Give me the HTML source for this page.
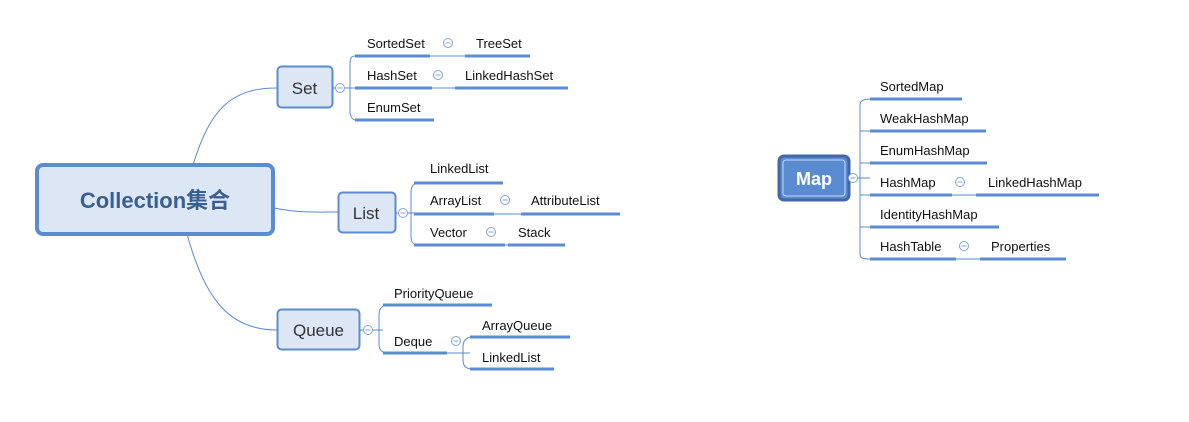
<!DOCTYPE html>
<html><head><meta charset="utf-8"><style>
html,body{margin:0;padding:0;background:#fff;}
svg{display:block;}
text{font-family:"Liberation Sans","Noto Sans CJK SC",sans-serif;}
.t{font-size:13px;fill:#111;}
.u{stroke:#5b8bd0;stroke-width:3;}
.l{stroke:#5b8bd0;stroke-width:1;fill:none;}
.c{fill:#fff;stroke:#7fa2d8;stroke-width:1;}
</style></head><body>
<svg width="1189" height="422" viewBox="0 0 1189 422" xmlns="http://www.w3.org/2000/svg">
<defs>
<g id="cc"><circle r="4.5" class="c"/><line x1="-2.5" y1="0" x2="2.5" y2="0" stroke="#7fa2d8"/></g>
</defs>
<!-- main curves -->
<path class="l" d="M193 165 C210 110 230 88 277 88"/>
<path class="l" d="M274 208 C300 213 310 212 338 212"/>
<path class="l" d="M187 234 C205 300 230 330 277 330"/>
<!-- central -->
<rect x="37" y="165" width="236" height="69" rx="6" fill="#dce6f4" stroke="#5b8bd0" stroke-width="4"/>
<text x="155" y="208" text-anchor="middle" font-size="22" font-weight="bold" fill="#3a5f8f">Collection集合</text>
<!-- Set -->
<rect x="277.5" y="66.5" width="55" height="41" rx="4" fill="#dce6f4" stroke="#5b8bd0" stroke-width="2"/>
<text x="304.5" y="94" text-anchor="middle" font-size="17" fill="#333">Set</text>
<line class="l" x1="333" y1="88" x2="355" y2="88"/>
<use href="#cc" x="340" y="88"/>
<path class="l" d="M355 56 C350 56 350 60 350 66 L350 110 C350 116 352 120 356 120"/>
<line class="u" x1="355" y1="56" x2="430" y2="56"/><text class="t" x="367" y="48">SortedSet</text>
<line class="l" x1="430" y1="56" x2="465" y2="56"/><use href="#cc" x="448" y="43"/>
<line class="u" x1="465" y1="56" x2="530" y2="56"/><text class="t" x="476" y="48">TreeSet</text>
<line class="u" x1="355" y1="88" x2="432" y2="88"/><text class="t" x="367" y="80">HashSet</text>
<line class="l" x1="432" y1="88" x2="455" y2="88"/><use href="#cc" x="438" y="75"/>
<line class="u" x1="455" y1="88" x2="568" y2="88"/><text class="t" x="465" y="80">LinkedHashSet</text>
<line class="u" x1="355" y1="120" x2="434" y2="120"/><text class="t" x="367" y="112">EnumSet</text>
<!-- List -->
<rect x="338.5" y="192.5" width="57" height="40" rx="4" fill="#dce6f4" stroke="#5b8bd0" stroke-width="2"/>
<text x="366" y="219" text-anchor="middle" font-size="17" fill="#333">List</text>
<line class="l" x1="396" y1="213" x2="414" y2="213"/>
<use href="#cc" x="403" y="213"/>
<path class="l" d="M418 183 C413 183 411 187 411 193 L411 236 C411 242 413 245 418 245"/>
<line class="u" x1="414" y1="183" x2="503" y2="183"/><text class="t" x="430" y="173">LinkedList</text>
<line class="u" x1="414" y1="214" x2="494" y2="214"/><text class="t" x="430" y="205">ArrayList</text>
<line class="l" x1="494" y1="214" x2="521" y2="214"/><use href="#cc" x="505" y="200"/>
<line class="u" x1="521" y1="214" x2="620" y2="214"/><text class="t" x="531" y="205">AttributeList</text>
<line class="u" x1="414" y1="245" x2="505" y2="245"/><text class="t" x="430" y="237">Vector</text>
<line class="l" x1="505" y1="245" x2="508" y2="245"/><use href="#cc" x="491" y="232"/>
<line class="u" x1="508" y1="245" x2="565" y2="245"/><text class="t" x="518" y="237">Stack</text>
<!-- Queue -->
<rect x="277.5" y="309.5" width="82" height="40" rx="4" fill="#dce6f4" stroke="#5b8bd0" stroke-width="2"/>
<text x="318.5" y="336" text-anchor="middle" font-size="17" fill="#333">Queue</text>
<line class="l" x1="360" y1="330" x2="383" y2="330"/>
<use href="#cc" x="368" y="330"/>
<path class="l" d="M388 305 C382 305 379 309 379 315 L379 344 C379 350 382 353 388 353"/>
<line class="u" x1="383" y1="305" x2="492" y2="305"/><text class="t" x="394" y="298">PriorityQueue</text>
<line class="u" x1="383" y1="353" x2="447" y2="353"/><text class="t" x="394" y="346">Deque</text>
<line class="l" x1="447" y1="353" x2="470" y2="353"/><use href="#cc" x="456" y="341"/>
<path class="l" d="M472 337 C466 337 463 341 463 347 L463 360 C463 366 466 369 472 369"/>
<line class="u" x1="470" y1="337" x2="570" y2="337"/><text class="t" x="482" y="330">ArrayQueue</text>
<line class="u" x1="470" y1="369" x2="554" y2="369"/><text class="t" x="482" y="362">LinkedList</text>
<!-- Map -->
<rect x="779" y="156" width="70" height="44" rx="5" fill="#5a8ad0" stroke="#4565a8" stroke-width="3"/>
<rect x="783" y="160" width="62" height="36" rx="3" fill="none" stroke="#c9d9f2" stroke-width="1"/>
<text x="814" y="185" text-anchor="middle" font-size="18" font-weight="bold" fill="#fff">Map</text>
<line class="l" x1="850" y1="178" x2="870" y2="178"/>
<use href="#cc" x="853" y="178"/>
<path class="l" d="M870 99 C863 99 860 101 860 105 L860 254 C860 258 863 259 870 259"/>
<line class="l" x1="860" y1="131" x2="870" y2="131"/><line class="l" x1="860" y1="163" x2="870" y2="163"/>
<line class="l" x1="860" y1="195" x2="870" y2="195"/><line class="l" x1="860" y1="227" x2="870" y2="227"/>
<line class="u" x1="870" y1="99" x2="962" y2="99"/><text class="t" x="880" y="91">SortedMap</text>
<line class="u" x1="870" y1="131" x2="986" y2="131"/><text class="t" x="880" y="123">WeakHashMap</text>
<line class="u" x1="870" y1="163" x2="987" y2="163"/><text class="t" x="880" y="155">EnumHashMap</text>
<line class="u" x1="870" y1="195" x2="952" y2="195"/><text class="t" x="880" y="187">HashMap</text>
<line class="l" x1="952" y1="195" x2="976" y2="195"/><use href="#cc" x="960" y="182"/>
<line class="u" x1="976" y1="195" x2="1099" y2="195"/><text class="t" x="988" y="187">LinkedHashMap</text>
<line class="u" x1="870" y1="227" x2="999" y2="227"/><text class="t" x="880" y="219">IdentityHashMap</text>
<line class="u" x1="870" y1="259" x2="956" y2="259"/><text class="t" x="880" y="251">HashTable</text>
<line class="l" x1="956" y1="259" x2="980" y2="259"/><use href="#cc" x="964" y="246"/>
<line class="u" x1="980" y1="259" x2="1066" y2="259"/><text class="t" x="991" y="251">Properties</text>
</svg>
</body></html>
